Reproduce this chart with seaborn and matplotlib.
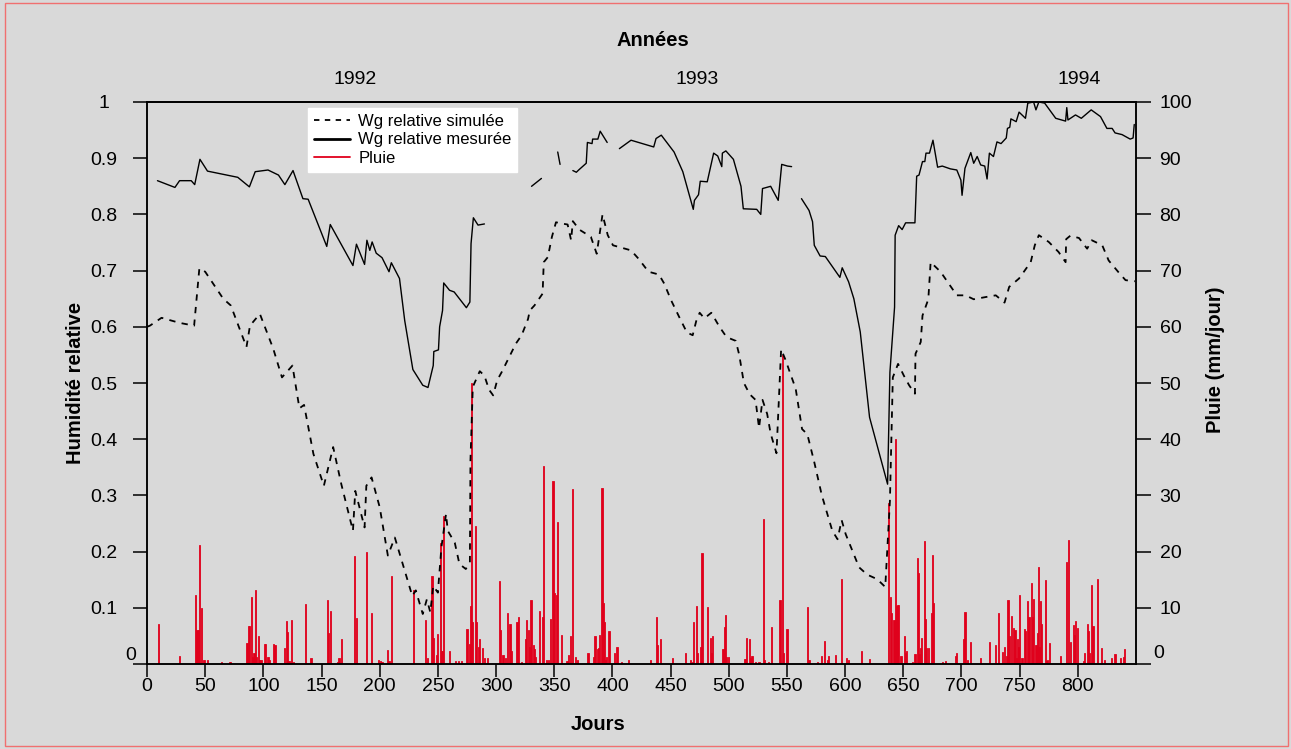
import numpy as np
import pandas as pd
import matplotlib.pyplot as plt
import seaborn as sns
from matplotlib.lines import Line2D
from matplotlib.patches import Rectangle

####################################
# Données
####################################

# pluie journalière (jour, mm/jour)
rain_days = [10, 28, 42, 43, 44, 45, 47, 49, 52, 64, 71, 72,
             86, 87, 88, 90, 91, 92, 93, 94, 96, 97, 98,
             101, 102, 104, 105, 109, 110, 118, 120, 121, 122, 124, 126,
             136, 141, 155, 156, 158, 164, 165, 167, 178, 180, 189, 193,
             199, 201, 202, 207, 208, 210, 229, 239, 241, 245, 246, 249, 250, 252, 253, 254, 255,
             260, 265, 268, 270, 275, 277, 278, 279, 280, 282, 283, 285, 286, 288, 290, 293,
             303, 304, 306, 308, 310, 312, 313, 318, 319, 322, 325, 326, 328, 329, 330, 332, 333, 334,
             337, 340, 341, 343, 345, 347, 349, 350, 352, 353, 356, 361, 362, 364, 366, 368, 370,
             379, 384, 385, 387, 388, 389, 391, 392, 393, 394, 395, 397, 402, 404, 408, 414,
             433, 438, 439, 441, 452, 463, 467, 469, 470, 472, 473, 476, 477, 482, 484, 485, 486,
             493, 495, 496, 497, 498, 500, 514, 515, 518, 519, 520, 523, 526, 530, 531, 534, 537,
             544, 546, 547, 550, 568, 569, 576, 580, 582, 585, 586,
             592, 597, 601, 603, 614, 621, 637, 639, 640, 642, 643, 644, 645, 646, 648, 651, 652, 653,
             658, 660, 662, 663, 664, 665, 666, 668, 669, 670, 672, 674, 675, 676, 684, 686, 695, 696,
             702, 703, 705, 708, 716, 724, 729, 732, 735, 737, 739, 740, 741, 743, 745, 746, 747, 748,
             749, 750, 752, 754, 755, 757, 758, 760, 761, 762, 764, 765, 766, 767, 768, 769, 772, 773,
             774, 776, 785, 790, 792, 794, 796, 797, 798, 800, 805, 806, 808, 809, 810, 812, 813, 817,
             820, 823, 829, 832, 837, 839, 840]
rain_mm = [7.2, 1.5, 12.2, 6.1, 6.1, 21.2, 10.0, 0.7, 0.8, 0.4, 0.4, 0.4,
           3.7, 6.7, 6.7, 11.9, 1.3, 1.9, 13.2, 1.3, 4.9, 0.7, 0.7,
           3.6, 3.5, 1.3, 0.7, 3.5, 3.3, 2.9, 7.6, 5.7, 0.5, 7.8, 0.4,
           10.7, 1.1, 11.3, 5.5, 9.5, 0.3, 1.1, 4.4, 19.3, 8.2, 19.9, 9.0,
           0.8, 0.6, 0.4, 2.5, 0.5, 15.7, 13.1, 7.8, 1.1, 15.6, 4.6, 1.6, 5.3, 21.5, 2.4, 2.3, 26.4,
           2.3, 0.5, 0.5, 0.5, 6.2, 3.6, 10.3, 50.0, 7.5, 24.5, 7.5, 3.1, 4.4, 2.8, 1.1, 1.1,
           14.8, 6.0, 1.6, 1.1, 9.0, 7.1, 2.3, 7.5, 8.3, 0.3, 4.4, 7.8, 6.0, 3.0, 11.3, 3.3, 2.7, 1.2,
           9.5, 8.4, 35.3, 0.8, 0.8, 8.0, 32.6, 12.6, 12.3, 25.3, 5.1, 0.5, 1.6, 4.9, 31.2, 1.3, 0.8,
           2.0, 1.3, 4.9, 2.6, 2.9, 5.2, 31.4, 10.8, 7.5, 0.7, 1.3, 5.8, 1.9, 3.1, 0.3, 0.7,
           0.7, 8.3, 3.4, 4.5, 1.0, 2.0, 0.8, 0.4, 7.5, 10.3, 2.0, 3.0, 19.7, 10.2, 4.6, 1.9, 4.9,
           0.2, 2.7, 6.6, 8.7, 1.2, 1.2, 0.9, 4.6, 4.4, 1.0, 1.4, 0.3, 0.3, 25.8, 0.8, 0.4, 6.5,
           11.3, 55.0, 2.0, 6.2, 10.2, 0.7, 0.3, 1.5, 4.1, 0.7, 1.5,
           1.6, 15.2, 1.1, 0.7, 2.3, 0.9, 28.7, 11.9, 9.0, 7.8, 40.0, 10.4, 10.5, 10.5, 1.5, 5.0, 1.9, 2.4,
           0.3, 1.8, 18.8, 16.2, 1.7, 2.9, 4.6, 21.8, 8.0, 2.9, 2.8, 9.0, 19.4, 10.9, 0.4, 0.6, 1.4, 2.0,
           4.4, 9.2, 0.7, 4.0, 1.1, 4.0, 3.3, 9.0, 2.2, 3.0, 1.5, 11.3, 4.9, 8.6, 6.4, 6.0, 1.0, 4.5,
           3.1, 12.2, 1.0, 6.3, 5.9, 11.2, 8.4, 14.4, 8.3, 11.6, 3.4, 5.6, 17.2, 3.1, 11.2, 7.1, 14.9, 0.5,
           0.8, 3.7, 1.4, 18.2, 22.1, 3.9, 7.0, 5.1, 7.7, 6.4, 0.6, 2.0, 7.1, 5.8, 2.0, 14.0, 6.8, 15.1,
           2.9, 0.7, 1.1, 1.7, 1.0, 1.2, 2.7]

# Wg relative simulée (ligne continue en tirets)
sim_days = [0, 2.5, 12.5, 28, 40.5, 45, 50, 65.5, 72, 85.5, 88.5, 97, 108.5, 116, 125, 131, 135,
            143, 152, 160, 167, 177, 179, 187, 188.5, 193, 200, 207, 213, 221.5, 228, 231, 237,
            240.5, 243.5, 246, 250, 253, 257, 258.5, 264.5, 268.5, 274, 277.5, 278, 280, 286, 290,
            294, 297.5, 301, 305, 311, 317, 322, 327.5, 329, 333, 340, 341, 344.5, 348, 351.5, 356,
            361.5, 364.5, 366, 371.5, 381.5, 386.5, 391.5, 396, 400.5, 409, 416, 422.5, 431, 440,
            444.5, 450.5, 457.5, 464, 469, 472, 475, 479, 485, 492, 497, 500, 506, 509, 513, 518,
            523, 526, 529, 533, 536, 541, 545, 549, 552, 557.5, 563, 567.5, 573.5, 580, 589, 593.5,
            597, 600.5, 612, 619, 627.5, 634.5, 636.5, 638.5, 641, 645.5, 650.5, 655, 660, 660.5,
            665, 666.5, 671.5, 673.5, 682, 696, 703.5, 710.5, 721, 729.5, 737, 741, 749.5, 759.5,
            763, 766.5, 775, 783.5, 789.5, 790, 793.5, 801, 808, 812, 821, 826.5, 835, 841, 849]
sim_vals = [0.600, 0.602, 0.616, 0.607, 0.602, 0.704, 0.698, 0.650, 0.638, 0.564, 0.602, 0.623,
            0.561, 0.510, 0.531, 0.455, 0.461, 0.374, 0.317, 0.386, 0.320, 0.237, 0.308, 0.243,
            0.317, 0.332, 0.279, 0.193, 0.225, 0.166, 0.121, 0.131, 0.089, 0.115, 0.092, 0.139,
            0.127, 0.207, 0.267, 0.237, 0.216, 0.178, 0.169, 0.181, 0.362, 0.493, 0.521, 0.513,
            0.488, 0.478, 0.505, 0.520, 0.545, 0.570, 0.585, 0.614, 0.629, 0.638, 0.659, 0.715,
            0.724, 0.760, 0.786, 0.784, 0.782, 0.754, 0.788, 0.773, 0.760, 0.730, 0.800, 0.763,
            0.745, 0.740, 0.736, 0.721, 0.698, 0.693, 0.677, 0.647, 0.617, 0.590, 0.585, 0.610,
            0.625, 0.615, 0.625, 0.600, 0.585, 0.580, 0.575, 0.550, 0.500, 0.480, 0.470, 0.420,
            0.470, 0.445, 0.410, 0.375, 0.560, 0.540, 0.522, 0.490, 0.418, 0.409, 0.359, 0.300,
            0.237, 0.222, 0.256, 0.231, 0.172, 0.159, 0.151, 0.137, 0.215, 0.290, 0.510, 0.534,
            0.513, 0.496, 0.481, 0.552, 0.573, 0.620, 0.649, 0.715, 0.698, 0.656, 0.656, 0.649,
            0.653, 0.656, 0.643, 0.671, 0.686, 0.715, 0.745, 0.763, 0.751, 0.733, 0.715, 0.756,
            0.762, 0.758, 0.739, 0.754, 0.745, 0.718, 0.697, 0.683, 0.681]

# Wg relative mesurée (morceaux séparés par des lacunes)
mes_seg1_days = [9, 24, 28, 38, 41, 45.5, 52, 78, 88, 93, 104, 113, 118.5, 125.5, 134, 138.5,
                 154.5, 157.5, 177, 180, 187, 189, 191.5, 193.5, 197, 202, 208, 210, 217, 221.5,
                 228.5, 237, 241.5, 246, 246.5, 250.5, 251.5, 254, 255, 260, 264, 274.5, 277.5,
                 278.5, 280.5, 284.5, 290]
mes_seg1_vals = [0.860, 0.848, 0.860, 0.860, 0.853, 0.898, 0.877, 0.866, 0.849, 0.876, 0.879,
                 0.870, 0.853, 0.878, 0.828, 0.827, 0.743, 0.782, 0.709, 0.747, 0.711, 0.754,
                 0.736, 0.751, 0.731, 0.723, 0.698, 0.714, 0.686, 0.611, 0.524, 0.496, 0.492,
                 0.531, 0.556, 0.559, 0.600, 0.629, 0.678, 0.665, 0.662, 0.634, 0.644, 0.748,
                 0.794, 0.781, 0.783]
mes_seg2_days = [330.5, 339]
mes_seg2_vals = [0.850, 0.864]
mes_seg3_days = [353, 355]
mes_seg3_vals = [0.911, 0.889]
mes_seg4_days = [366, 369, 371, 377.5, 378.5, 382.5, 383, 387.5, 389.5, 395.5]
mes_seg4_vals = [0.878, 0.875, 0.879, 0.891, 0.928, 0.926, 0.934, 0.934, 0.948, 0.928]
mes_seg5_days = [406, 416, 435.5, 437.5, 442, 453, 460.5, 469.5, 470.5, 474, 475.5, 481.5, 487,
                 490.5, 494, 494.5, 497.5, 504, 510.5, 512.5, 524, 527.5, 529, 536, 542.5,
                 545.5, 550.5, 554]
mes_seg5_vals = [0.917, 0.932, 0.920, 0.935, 0.941, 0.911, 0.876, 0.809, 0.825, 0.835, 0.859,
                 0.858, 0.909, 0.904, 0.885, 0.909, 0.913, 0.898, 0.850, 0.810, 0.809, 0.800,
                 0.846, 0.850, 0.825, 0.889, 0.886, 0.885]
mes_seg6_days = [562.5, 569, 572, 573.5, 578.5, 583, 595.5, 597.5, 603, 607.5, 613, 621, 636.5,
                 638.5, 642.5, 643, 646, 649, 652, 660, 661.5, 663.5, 666.5, 668.5, 669.5, 672.5,
                 675.5, 679.5, 683.5, 690.5, 696, 699.5, 700.5, 703, 708, 710.5, 713.5, 716.5,
                 720, 722, 724, 727.5, 730.5, 734, 738.5, 739.5, 741.5, 742.5, 747, 749.5, 755,
                 757, 762, 764, 766.5, 771.5, 781, 789.5, 790.5, 791.5, 798, 803, 811.5, 819.5,
                 825, 829.5, 832, 838, 845, 847.5, 848.5]
mes_seg6_vals = [0.828, 0.807, 0.787, 0.745, 0.726, 0.725, 0.688, 0.705, 0.680, 0.650, 0.591,
                 0.439, 0.320, 0.519, 0.635, 0.763, 0.780, 0.773, 0.785, 0.785, 0.868, 0.870,
                 0.894, 0.894, 0.909, 0.909, 0.932, 0.884, 0.886, 0.881, 0.879, 0.861, 0.834,
                 0.882, 0.910, 0.891, 0.903, 0.888, 0.886, 0.863, 0.909, 0.903, 0.929, 0.926,
                 0.936, 0.953, 0.955, 0.970, 0.965, 0.982, 0.971, 0.998, 1.0, 0.986, 1.0, 0.998,
                 0.971, 0.966, 0.990, 0.968, 0.977, 0.971, 0.986, 0.974, 0.953, 0.953, 0.945,
                 0.942, 0.934, 0.936, 0.960]

year_pos = [178.5, 473, 801]
year_labels = ['1992', '1993', '1994']
x_ticks = list(range(0, 801, 50))
left_ticks = [0, 0.1, 0.2, 0.3, 0.4, 0.5, 0.6, 0.7, 0.8, 0.9, 1]
left_labels = ['', '0.1', '0.2', '0.3', '0.4', '0.5', '0.6', '0.7', '0.8', '0.9', '1']
right_ticks = list(range(0, 101, 10))
right_labels = [''] + [str(v) for v in range(10, 101, 10)]

legend_labels = ['Wg relative simulée', 'Wg relative mesurée', 'Pluie']

####################################
# Tableaux
####################################

rain_df = pd.DataFrame({'jour': rain_days, 'pluie': rain_mm})
sim_df = pd.DataFrame({'jour': sim_days, 'wg': sim_vals})

segs = [(mes_seg1_days, mes_seg1_vals), (mes_seg2_days, mes_seg2_vals),
        (mes_seg3_days, mes_seg3_vals), (mes_seg4_days, mes_seg4_vals),
        (mes_seg5_days, mes_seg5_vals), (mes_seg6_days, mes_seg6_vals)]
mes_df = pd.concat([pd.DataFrame({'jour': d, 'wg': v, 'seg': i}) for i, (d, v) in enumerate(segs)],
                   ignore_index=True)

####################################
# Figure
####################################

BG = '#d9d9d9'
RED = '#e0001b'

sns.set_theme(style='ticks', rc={'axes.edgecolor': 'black', 'xtick.color': 'black',
                                 'ytick.color': 'black', 'text.color': 'black',
                                 'axes.labelcolor': 'black', 'axes.linewidth': 1.1})
plt.rcParams['font.family'] = ['Liberation Sans', 'DejaVu Sans']

fig = plt.figure(figsize=(12.91, 7.49), dpi=100, facecolor=BG)
ax = fig.add_axes([147 / 1291, 1 - 664 / 749, 989 / 1291, 562 / 749])
ax.set_facecolor(BG)
ax2 = ax.twinx()

# pluie sur l'axe de droite
sns.barplot(data=rain_df, x='jour', y='pluie', native_scale=True, orient='x', width=1.0,
            color=RED, saturation=1, errorbar=None, linewidth=0.6, edgecolor=RED, ax=ax2)

# lignes au-dessus des barres
ax.set_zorder(ax2.get_zorder() + 1)
ax.patch.set_visible(False)

sns.lineplot(data=sim_df, x='jour', y='wg', estimator=None, color='black', lw=1.3,
             linestyle=(0, (3.5, 3.5)), ax=ax)
sns.lineplot(data=mes_df, x='jour', y='wg', units='seg', estimator=None, color='black',
             lw=1.0, ax=ax)

ax.set_xlim(0, 850)
ax.set_ylim(0, 1)
ax2.set_ylim(0, 100)

ax.set_xticks(x_ticks)
ax.set_yticks(left_ticks)
ax.set_yticklabels(left_labels)
ax2.set_yticks(right_ticks)
ax2.set_yticklabels(right_labels)

ax.tick_params(axis='x', direction='out', length=9, width=1.1, labelsize=14, pad=1)
ax.tick_params(axis='y', direction='out', length=10, width=1.1, labelsize=14, pad=21)
ax2.tick_params(axis='y', direction='out', length=11, width=1.1, labelsize=14, pad=6)
for lbl in ax.get_yticklabels():
    lbl.set_horizontalalignment('center')

ax.annotate('0', xy=(0, 0), xycoords='axes fraction', xytext=(-16, 8),
            textcoords='offset pixels', ha='center', va='center', fontsize=14)
ax2.annotate('0', xy=(1, 0), xycoords='axes fraction', xytext=(23, 11),
             textcoords='offset pixels', ha='center', va='center', fontsize=14)

ax.set_xlabel('Jours', fontsize=14.5, fontweight='bold')
ax.xaxis.set_label_coords(0.456, -0.1068)
ax.xaxis.label.set_verticalalignment('center')
ax.set_ylabel('Humidité relative', fontsize=14.5, fontweight='bold')
ax.yaxis.set_label_coords(-0.0728, 0.5)
ax.yaxis.label.set_verticalalignment('center')
ax2.set_ylabel('Pluie (mm/jour)', fontsize=14.5, fontweight='bold')
ax2.yaxis.set_label_coords(1.0799, 0.541)
ax2.yaxis.label.set_verticalalignment('center')

# axe des années en haut
sec = ax.secondary_xaxis('top')
sec.set_xticks(year_pos)
sec.set_xticklabels(year_labels)
sec.tick_params(length=0, labelsize=14, pad=10)
sec.set_xlabel('Années', fontsize=14.5, fontweight='bold')
sec.xaxis.set_label_coords(0.5116, 1.110, transform=ax.transAxes)
sec.xaxis.label.set_verticalalignment('center')

# légende
handles = [Line2D([], [], color='black', lw=1.3, linestyle=(0, (3, 3))),
           Line2D([], [], color='black', lw=2),
           Line2D([], [], color=RED, lw=1.3)]
ax.legend(handles, legend_labels, loc='upper left', bbox_to_anchor=(0.163, 0.989),
          borderaxespad=0, frameon=True, facecolor='white', edgecolor='white', framealpha=1,
          fancybox=False, fontsize=12, handlelength=2.15, handletextpad=0.5,
          labelspacing=0.2, borderpad=0.35)

# cadre rouge
fig.patches.append(Rectangle((5 / 1291, 3 / 749), 1283 / 1291, 743 / 749,
                             transform=fig.transFigure, fill=False, edgecolor='#f07070', lw=1))

fig.savefig('out.png', dpi=100, facecolor=BG)
